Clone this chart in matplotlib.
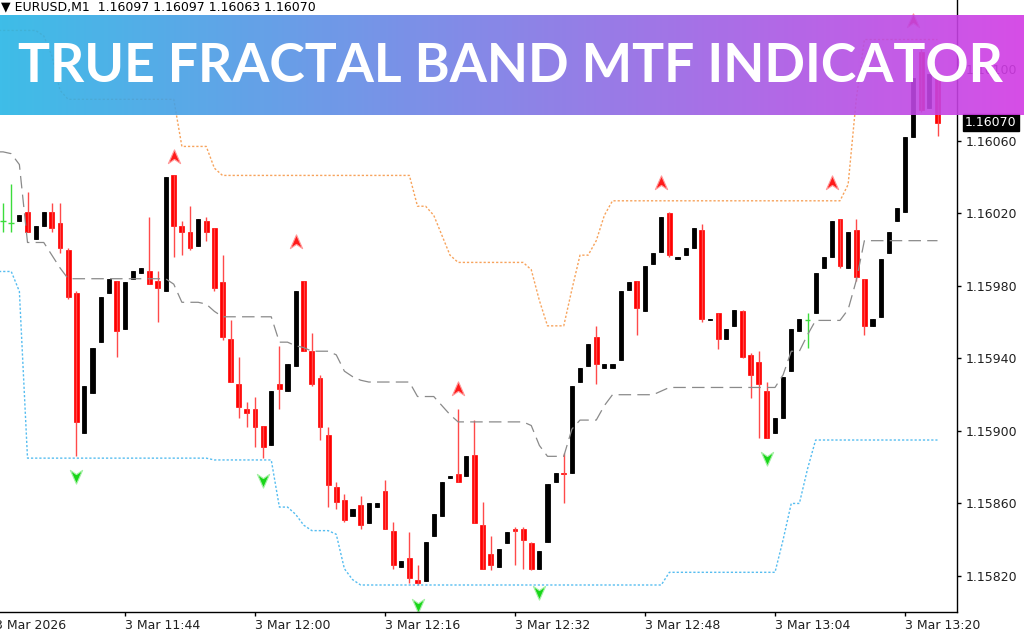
# True Fractal Band MTF indicator on EURUSD M1. ==============================

import numpy as np
import matplotlib.pyplot as plt
from matplotlib.path import Path


# Data. =======================================================================

# One candle per minute, 11:29 to 13:24 (bar 0 is 11:28).

open_ = [1.16016, 1.16015, 1.16016, 1.16021, 1.16006, 1.16013, 1.16021, 1.16015, 1.16000, 1.15976,
         1.15899, 1.15921, 1.15949, 1.15976, 1.15983, 1.15956, 1.15984, 1.15987, 1.15988, 1.15983,
         1.15977, 1.16041, 1.16013, 1.16010, 1.16002, 1.16016, 1.16012, 1.15982, 1.15951, 1.15926,
         1.15912, 1.15912, 1.15903, 1.15892, 1.15926, 1.15922, 1.15936, 1.15983, 1.15944, 1.15929,
         1.15898, 1.15869, 1.15862, 1.15853, 1.15859, 1.15849, 1.15858, 1.15867, 1.15845, 1.15825,
         1.15830, 1.15818, 1.15817, 1.15842, 1.15853, 1.15874, 1.15876, 1.15875, 1.15887, 1.15848,
         1.15832, 1.15825, 1.15838, 1.15846, 1.15846, 1.15838, 1.15824, 1.15839, 1.15872, 1.15877,
         1.15877, 1.15927, 1.15936, 1.15952, 1.15935, 1.15935, 1.15939, 1.15978, 1.15983, 1.15966,
         1.15992, 1.15999, 1.16020, 1.15995, 1.15997, 1.16001, 1.16011, 1.15961, 1.15965, 1.15951,
         1.15958, 1.15966, 1.15942, 1.15938, 1.15922, 1.15899, 1.15907, 1.15933, 1.15955, 1.15961,
         1.15965, 1.15990, 1.15996, 1.16017, 1.15990, 1.16011, 1.15984, 1.15958, 1.15963, 1.15998,
         1.16016, 1.16021, 1.16062, 1.16109, 1.16078, 1.16097]

high = [1.16026, 1.16036, 1.16019, 1.16032, 1.16013, 1.16021, 1.16026, 1.16026, 1.16001, 1.15977,
        1.15925, 1.15946, 1.15974, 1.15984, 1.15983, 1.15982, 1.15988, 1.15990, 1.16018, 1.15988,
        1.16040, 1.16041, 1.16016, 1.16024, 1.16017, 1.16018, 1.16012, 1.15997, 1.15961, 1.15941,
        1.15916, 1.15919, 1.15903, 1.15922, 1.15947, 1.15937, 1.15977, 1.15983, 1.15954, 1.15931,
        1.15902, 1.15872, 1.15865, 1.15857, 1.15864, 1.15860, 1.15860, 1.15873, 1.15850, 1.15828,
        1.15844, 1.15826, 1.15839, 1.15854, 1.15872, 1.15875, 1.15912, 1.15886, 1.15906, 1.15861,
        1.15842, 1.15835, 1.15844, 1.15847, 1.15847, 1.15839, 1.15834, 1.15871, 1.15877, 1.15888,
        1.15925, 1.15935, 1.15948, 1.15958, 1.15937, 1.15937, 1.15977, 1.15982, 1.15983, 1.15991,
        1.15998, 1.16018, 1.16021, 1.15996, 1.16001, 1.16012, 1.16014, 1.15962, 1.15965, 1.15956,
        1.15967, 1.15967, 1.15943, 1.15944, 1.15927, 1.15907, 1.15930, 1.15956, 1.15962, 1.15965,
        1.15987, 1.15996, 1.16016, 1.16017, 1.16010, 1.16017, 1.15984, 1.15962, 1.15995, 1.16010,
        1.16023, 1.16062, 1.16095, 1.16111, 1.16097, 1.16097]

low = [1.16010, 1.16010, 1.16016, 1.16010, 1.16006, 1.16013, 1.16010, 1.15998, 1.15973, 1.15886,
       1.15899, 1.15921, 1.15949, 1.15976, 1.15941, 1.15956, 1.15984, 1.15987, 1.15981, 1.15960,
       1.15977, 1.15996, 1.15997, 1.16000, 1.16002, 1.16005, 1.15977, 1.15950, 1.15927, 1.15907,
       1.15902, 1.15891, 1.15885, 1.15892, 1.15912, 1.15922, 1.15936, 1.15944, 1.15925, 1.15895,
       1.15858, 1.15857, 1.15850, 1.15853, 1.15846, 1.15849, 1.15858, 1.15846, 1.15824, 1.15825,
       1.15816, 1.15815, 1.15817, 1.15842, 1.15853, 1.15874, 1.15872, 1.15875, 1.15849, 1.15824,
       1.15823, 1.15825, 1.15838, 1.15826, 1.15824, 1.15823, 1.15824, 1.15839, 1.15872, 1.15860,
       1.15877, 1.15927, 1.15936, 1.15926, 1.15935, 1.15935, 1.15939, 1.15978, 1.15953, 1.15966,
       1.15992, 1.15999, 1.15996, 1.15995, 1.15997, 1.16001, 1.15960, 1.15961, 1.15945, 1.15951,
       1.15958, 1.15940, 1.15918, 1.15896, 1.15896, 1.15899, 1.15907, 1.15933, 1.15955, 1.15946,
       1.15965, 1.15990, 1.15996, 1.15990, 1.15990, 1.15983, 1.15953, 1.15958, 1.15963, 1.15998,
       1.16016, 1.16021, 1.16062, 1.16076, 1.16078, 1.16063]

close = [1.16016, 1.16015, 1.16019, 1.16010, 1.16013, 1.16021, 1.16012, 1.16001, 1.15974, 1.15905,
         1.15925, 1.15946, 1.15974, 1.15984, 1.15955, 1.15982, 1.15988, 1.15990, 1.15981, 1.15979,
         1.16040, 1.16013, 1.16010, 1.16001, 1.16017, 1.16010, 1.15979, 1.15952, 1.15927, 1.15913,
         1.15910, 1.15902, 1.15891, 1.15922, 1.15923, 1.15937, 1.15977, 1.15944, 1.15926, 1.15902,
         1.15870, 1.15861, 1.15851, 1.15857, 1.15848, 1.15860, 1.15860, 1.15846, 1.15826, 1.15828,
         1.15819, 1.15816, 1.15839, 1.15854, 1.15872, 1.15875, 1.15872, 1.15886, 1.15849, 1.15824,
         1.15826, 1.15835, 1.15844, 1.15845, 1.15840, 1.15824, 1.15834, 1.15871, 1.15877, 1.15876,
         1.15925, 1.15935, 1.15948, 1.15937, 1.15937, 1.15937, 1.15977, 1.15982, 1.15968, 1.15991,
         1.15998, 1.16018, 1.15997, 1.15996, 1.16001, 1.16012, 1.15962, 1.15962, 1.15951, 1.15956,
         1.15967, 1.15941, 1.15931, 1.15926, 1.15896, 1.15907, 1.15930, 1.15956, 1.15962, 1.15961,
         1.15987, 1.15996, 1.16016, 1.15991, 1.16010, 1.15985, 1.15958, 1.15962, 1.15995, 1.16010,
         1.16023, 1.16062, 1.16095, 1.16077, 1.16097, 1.16070]

# Band values per bar, from bar 0 (11:28) to bar 116 (13:24).

upper = [1.16121, 1.16121, 1.16121, 1.16121, 1.16121, 1.16121, 1.16118, 1.16107, 1.16088, 1.16083,
         1.16083, 1.16083, 1.16083, 1.16083, 1.16083, 1.16083, 1.16083, 1.16083, 1.16083, 1.16083,
         1.16083, 1.16083, 1.16083, 1.16057, 1.16057, 1.16057, 1.16057, 1.16045, 1.16041, 1.16041,
         1.16041, 1.16041, 1.16041, 1.16041, 1.16041, 1.16041, 1.16041, 1.16041, 1.16041, 1.16041,
         1.16041, 1.16041, 1.16041, 1.16041, 1.16041, 1.16041, 1.16041, 1.16041, 1.16041, 1.16041,
         1.16041, 1.16041, 1.16024, 1.16024, 1.16019, 1.16008, 1.15997, 1.15993, 1.15993, 1.15993,
         1.15993, 1.15993, 1.15993, 1.15993, 1.15993, 1.15993, 1.15989, 1.15972, 1.15958, 1.15958,
         1.15958, 1.15978, 1.15997, 1.15997, 1.16005, 1.16019, 1.16027, 1.16027, 1.16027, 1.16027,
         1.16027, 1.16027, 1.16027, 1.16027, 1.16027, 1.16027, 1.16027, 1.16027, 1.16027, 1.16027,
         1.16027, 1.16027, 1.16027, 1.16027, 1.16027, 1.16027, 1.16027, 1.16027, 1.16027, 1.16027,
         1.16027, 1.16027, 1.16027, 1.16027, 1.16027, 1.16036, 1.16083, 1.16116, 1.16116, 1.16116,
         1.16116, 1.16116, 1.16116, 1.16116, 1.16116, 1.16116, 1.16116]

middle = [1.16054, 1.16054, 1.16053, 1.16047, 1.16004, 1.16004, 1.16004, 1.15997, 1.15990, 1.15984,
          1.15984, 1.15984, 1.15984, 1.15984, 1.15984, 1.15984, 1.15984, 1.15984, 1.15984, 1.15984,
          1.15984, 1.15984, 1.15981, 1.15971, 1.15971, 1.15971, 1.15970, 1.15966, 1.15963, 1.15963,
          1.15963, 1.15963, 1.15963, 1.15963, 1.15963, 1.15949, 1.15949, 1.15947, 1.15946, 1.15944,
          1.15944, 1.15944, 1.15942, 1.15933, 1.15930, 1.15928, 1.15927, 1.15927, 1.15927, 1.15927,
          1.15927, 1.15927, 1.15919, 1.15919, 1.15919, 1.15914, 1.15909, 1.15905, 1.15905, 1.15905,
          1.15905, 1.15905, 1.15905, 1.15905, 1.15905, 1.15905, 1.15903, 1.15892, 1.15886, 1.15886,
          1.15886, 1.15901, 1.15906, 1.15906, 1.15906, 1.15914, 1.15920, 1.15920, 1.15920, 1.15920,
          1.15920, 1.15920, 1.15922, 1.15924, 1.15924, 1.15924, 1.15924, 1.15924, 1.15924, 1.15924,
          1.15924, 1.15924, 1.15924, 1.15924, 1.15924, 1.15924, 1.15924, 1.15931, 1.15944, 1.15944,
          1.15953, 1.15961, 1.15961, 1.15961, 1.15961, 1.15967, 1.15983, 1.16005, 1.16005, 1.16005,
          1.16005, 1.16005, 1.16005, 1.16005, 1.16005, 1.16005, 1.16005]

lower = [1.15988, 1.15988, 1.15988, 1.15977, 1.15885, 1.15885, 1.15885, 1.15885, 1.15885, 1.15885,
         1.15885, 1.15885, 1.15885, 1.15885, 1.15885, 1.15885, 1.15885, 1.15885, 1.15885, 1.15885,
         1.15885, 1.15885, 1.15885, 1.15885, 1.15885, 1.15885, 1.15885, 1.15884, 1.15884, 1.15884,
         1.15884, 1.15884, 1.15884, 1.15884, 1.15884, 1.15858, 1.15858, 1.15854, 1.15848, 1.15845,
         1.15845, 1.15845, 1.15843, 1.15824, 1.15818, 1.15815, 1.15815, 1.15815, 1.15815, 1.15815,
         1.15815, 1.15815, 1.15815, 1.15815, 1.15815, 1.15815, 1.15815, 1.15815, 1.15815, 1.15815,
         1.15815, 1.15815, 1.15815, 1.15815, 1.15815, 1.15815, 1.15815, 1.15815, 1.15815, 1.15815,
         1.15815, 1.15815, 1.15815, 1.15815, 1.15815, 1.15815, 1.15815, 1.15815, 1.15815, 1.15815,
         1.15815, 1.15815, 1.15815, 1.15822, 1.15822, 1.15822, 1.15822, 1.15822, 1.15822, 1.15822,
         1.15822, 1.15822, 1.15822, 1.15822, 1.15822, 1.15822, 1.15822, 1.15840, 1.15860, 1.15860,
         1.15879, 1.15895, 1.15895, 1.15895, 1.15895, 1.15895, 1.15895, 1.15895, 1.15895, 1.15895,
         1.15895, 1.15895, 1.15895, 1.15895, 1.15895, 1.15895, 1.15895]

# Fractal arrows: bar number and price level.

up_bar = [22, 37, 57, 82, 103, 113]
up_price = [1.16051, 1.16004, 1.15923, 1.16037, 1.16037, 1.16126]
down_bar = [10, 33, 52, 67, 95]
down_price = [1.15875, 1.15873, 1.15804, 1.15811, 1.15885]

# Axis labels.

time_bars = [0, 16, 32, 48, 64, 80, 96, 112]
time_labels = ['3 Mar 2026', '3 Mar 11:44', '3 Mar 12:00', '3 Mar 12:16',
               '3 Mar 12:32', '3 Mar 12:48', '3 Mar 13:04', '3 Mar 13:20']
price_ticks = [1.15820, 1.15860, 1.15900, 1.15940, 1.15980, 1.16020, 1.16060, 1.16100]

symbol = 'EURUSD,M1'
title = 'TRUE FRACTAL BAND MTF INDICATOR'


# Figure. =====================================================================

open_ = np.array(open_)
high = np.array(high)
low = np.array(low)
close = np.array(close)
bars = np.arange(1, len(close) + 1)
band_bars = np.arange(0, len(upper))

fig = plt.figure(figsize=(10.24, 6.4), dpi=100)
fig.set_facecolor('white')
ax = fig.add_axes([0, 28 / 640, 957 / 1024, 612 / 640])

# Candles: black = up, red = down, green = doji.

bull = close > open_ + 1e-9
bear = close < open_ - 1e-9
doji = ~(bull | bear)

ax.vlines(bars[bear], low[bear], high[bear], color='#ff4a4a', linewidth=1)
ax.bar(bars[bear], open_[bear] - close[bear], bottom=close[bear], width=0.6,
       color='#ff0000', edgecolor='#ff0000', linewidth=0.5)

ax.vlines(bars[bull], low[bull], high[bull], color='black', linewidth=1)
ax.bar(bars[bull], close[bull] - open_[bull], bottom=open_[bull], width=0.5,
       color='black', edgecolor='black', linewidth=0.6)

ax.vlines(bars[doji], low[doji], high[doji], color='#3cdc3c', linewidth=1)
ax.hlines(open_[doji], bars[doji] - 0.35, bars[doji] + 0.35, color='#3cdc3c', linewidth=1)

# Band lines.

ax.plot(band_bars, upper, color='#f7a35c', linewidth=1.0, linestyle=(0, (1.6, 1.4)))
ax.plot(band_bars, lower, color='#56bdf0', linewidth=1.0, linestyle=(0, (1.6, 1.4)))
ax.plot(band_bars, middle, color='#8a8a8a', linewidth=0.9, linestyle=(0, (10, 5)))

# Fractal arrows.

arrow_up = Path([(0, 1), (0.8, -0.8), (0, -0.25), (-0.8, -0.8), (0, 1)],
                [Path.MOVETO, Path.LINETO, Path.LINETO, Path.LINETO, Path.CLOSEPOLY])
arrow_down = Path([(0, -1), (0.8, 0.8), (0, 0.25), (-0.8, 0.8), (0, -1)],
                  [Path.MOVETO, Path.LINETO, Path.LINETO, Path.LINETO, Path.CLOSEPOLY])

ax.plot(up_bar, up_price, linestyle='none', marker=arrow_up, markersize=11,
        markerfacecolor='#ff1a1a', markeredgecolor='#ff9a9a', markeredgewidth=0.8)
ax.plot(down_bar, down_price, linestyle='none', marker=arrow_down, markersize=11,
        markerfacecolor='#19d619', markeredgecolor='#a6f0a6', markeredgewidth=0.8)

# Axes style, like a MetaTrader chart.

ax.set_xlim(0.615, 118.4)
ax.set_ylim(1.158001, 1.161378)
ax.set_facecolor('white')
for side in ['top', 'left']:
    ax.spines[side].set_visible(False)
for side in ['right', 'bottom']:
    ax.spines[side].set_color('black')
    ax.spines[side].set_linewidth(1)

ax.yaxis.tick_right()
ax.set_yticks(price_ticks)
ax.set_yticklabels(['%.5f' % p for p in price_ticks])
ax.tick_params(axis='y', direction='out', length=3, width=1, pad=3,
               labelsize=9, labelcolor='#202020')

ax.set_xticks(time_bars[1:])
ax.set_xticklabels(time_labels[1:], ha='left')
ax.tick_params(axis='x', direction='out', length=3, width=1, pad=2,
               labelsize=9, labelcolor='#202020')
ax.annotate(time_labels[0], xy=(time_bars[0], 0), xycoords=('data', 'axes fraction'),
            xytext=(0, -5), textcoords='offset points', ha='left', va='top',
            fontsize=9, color='#202020', annotation_clip=False)

# Current price box.

ax.annotate('%.5f' % close[-1], xy=(1, close[-1]), xycoords=('axes fraction', 'data'),
            xytext=(8, 0), textcoords='offset pixels', ha='left', va='center',
            fontsize=9, color='white', annotation_clip=False,
            bbox=dict(boxstyle='square,pad=0.15', facecolor='black', edgecolor='black'))

# Header line.

header = '\u25bc ' + symbol + '  ' + ' '.join('%.5f' % v for v in
                                            [open_[-1], high[-1], low[-1], close[-1]])
fig.text(1 / 1024, 1 - 7 / 640, header, ha='left', va='center', fontsize=9, color='black')


# Banner. =====================================================================

ban = fig.add_axes([0, 1 - 115 / 640, 1, 100 / 640])
t = np.linspace(0, 1, 512)
left_rgb = np.array([40, 182, 230]) / 255
right_rgb = np.array([210, 58, 228]) / 255
grad = left_rgb[None, :] * (1 - t[:, None]) + right_rgb[None, :] * t[:, None]
ban.imshow(grad[None, :, :], aspect='auto', extent=[0, 1, 0, 1], alpha=0.9)
ban.set_xlim(0, 1)
ban.set_ylim(0, 1)
ban.axis('off')

txt = ban.text(0.4985, 0.33, title, ha='center', va='baseline', color='white',
               fontsize=40, family='Lato', fontweight='bold')

# Fit the title to the banner width.
fig.canvas.draw()
w = txt.get_window_extent().width
txt.set_fontsize(40 * 985 / w)

plt.savefig('out.png', dpi=100)
